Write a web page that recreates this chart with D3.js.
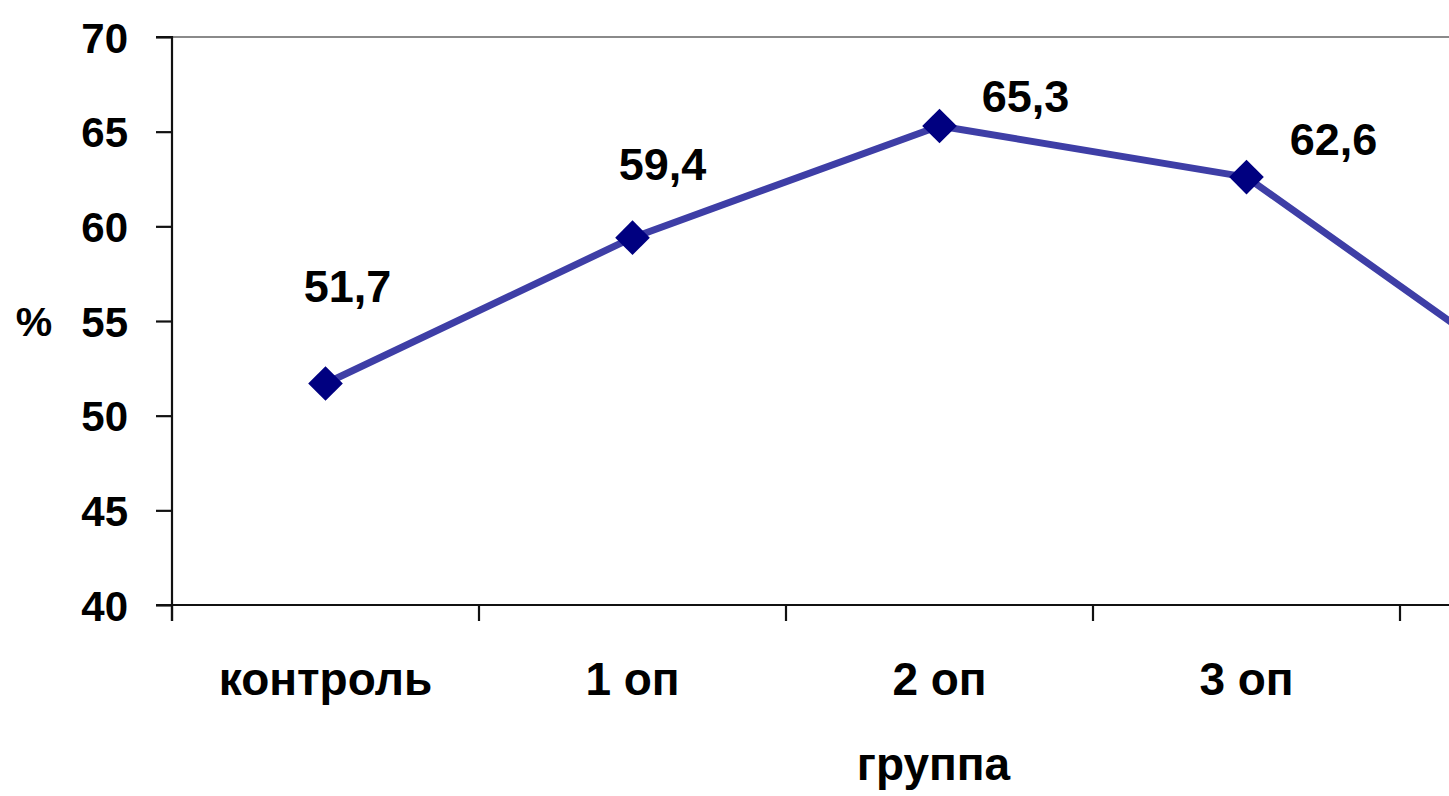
<!DOCTYPE html>
<html>
<head>
<meta charset="utf-8">
<script src="https://cdn.jsdelivr.net/npm/d3@7"></script>
<style>
  html, body { margin: 0; padding: 0; background: #fff; overflow: hidden; }
  svg { display: block; overflow: hidden; }
  text { font-family: "Liberation Sans", Arial, sans-serif; font-weight: bold; fill: #000; }
</style>
</head>
<body>
<svg id="chart"></svg>
<script>
// Share of animals per group, %
const categories = ["контроль", "1 оп", "2 оп", "3 оп", "4 оп"];
const values = [51.7, 59.4, 65.3, 62.6, 51.1];
const valueLabels = ["51,7", "59,4", "65,3", "62,6", "51,1"];
const yTicks = [40, 45, 50, 55, 60, 65, 70];
const yTitle = "%";
const xTitle = "группа";

// Hand-placed data label offsets from each point (dx, dy to baseline)
const labelOffsets = [[22, -81], [30, -58], [86, -14], [87, -22], [40, -40]];

// The canvas is narrower than the plot area; the series runs on past the right edge.
const W = 1449, H = 796;
const margin = { left: 172, top: 37, plotRight: 1707, bottom: 605 };

const svg = d3.select("#chart").attr("width", W).attr("height", H);

const x = d3.scaleBand().domain(categories).range([margin.left, margin.plotRight]).padding(0);
const y = d3.scaleLinear().domain([40, 70]).range([margin.bottom, margin.top]);

const cx = (d, i) => x(categories[i]) + x.bandwidth() / 2;
const onCanvas = px => px < W;

// top border line at the maximum value
svg.append("line")
  .attr("x1", margin.left).attr("x2", margin.plotRight)
  .attr("y1", y(70)).attr("y2", y(70))
  .attr("stroke", "#8a8a8a").attr("stroke-width", 2);

// y axis
const yAxis = d3.axisLeft(y).tickValues(yTicks).tickSize(16).tickPadding(28).tickFormat(d3.format("d"));
const gy = svg.append("g").attr("transform", `translate(${margin.left},0)`).call(yAxis);
gy.select(".domain").attr("stroke", "#111").attr("stroke-width", 2.2).attr("d", `M-16,${y(70)}H0V${margin.bottom + 16}`);
gy.selectAll(".tick line").attr("stroke", "#111").attr("stroke-width", 2.2);
gy.selectAll(".tick text").style("font-size", "42px").attr("dy", "0.36em")
  .attr("font-family", null).attr("font-size", null).attr("fill", "#000");

// x axis: ticks at band boundaries, labels at centres
const boundaries = categories.map(c => x(c)).concat([x(categories[categories.length - 1]) + x.bandwidth()]);
const gx = svg.append("g");
gx.append("line")
  .attr("x1", margin.left - 16).attr("x2", margin.plotRight)
  .attr("y1", margin.bottom).attr("y2", margin.bottom)
  .attr("stroke", "#111").attr("stroke-width", 2.2);
gx.selectAll("line.tick").data(boundaries.filter(onCanvas)).join("line")
  .attr("class", "tick")
  .attr("x1", d => d).attr("x2", d => d)
  .attr("y1", margin.bottom).attr("y2", margin.bottom + 16)
  .attr("stroke", "#111").attr("stroke-width", 2.2);
gx.selectAll("text").data(categories.filter(c => onCanvas(x(c) + x.bandwidth() / 2 - 60))).join("text")
  .attr("x", d => x(d) + x.bandwidth() / 2)
  .attr("y", 695)
  .attr("text-anchor", "middle")
  .style("font-size", "46px")
  .text(d => d);

// axis titles
svg.append("text").attr("x", 34).attr("y", y(55) + 15).attr("text-anchor", "middle")
  .style("font-size", "41px").text(yTitle);
svg.append("text").attr("x", x(categories[2]) + x.bandwidth() / 2 - 6).attr("y", 780).attr("text-anchor", "middle")
  .style("font-size", "46px").text(xTitle);

// series line
const line = d3.line().x(cx).y(d => y(d));
svg.append("path").datum(values)
  .attr("d", line)
  .attr("fill", "none")
  .attr("stroke", "#3e3ea6")
  .attr("stroke-width", 7)
  .attr("stroke-linejoin", "round");

// diamond markers
const diamond = d3.symbol().type(d3.symbolSquare).size(600);
svg.selectAll("path.marker").data(values).join("path")
  .attr("class", "marker")
  .attr("d", diamond)
  .attr("transform", (d, i) => `translate(${cx(d, i)},${y(d)}) rotate(45)`)
  .attr("fill", "#000080");

// value labels (only those that land on the canvas)
const labelData = values.map((v, i) => ({ v, i })).filter(o => onCanvas(cx(o.v, o.i) + labelOffsets[o.i][0] - 50));
svg.selectAll("text.value").data(labelData).join("text")
  .attr("class", "value")
  .attr("x", o => cx(o.v, o.i) + labelOffsets[o.i][0])
  .attr("y", o => y(o.v) + labelOffsets[o.i][1])
  .attr("text-anchor", "middle")
  .style("font-size", "45px")
  .text(o => valueLabels[o.i]);
</script>
</body>
</html>
